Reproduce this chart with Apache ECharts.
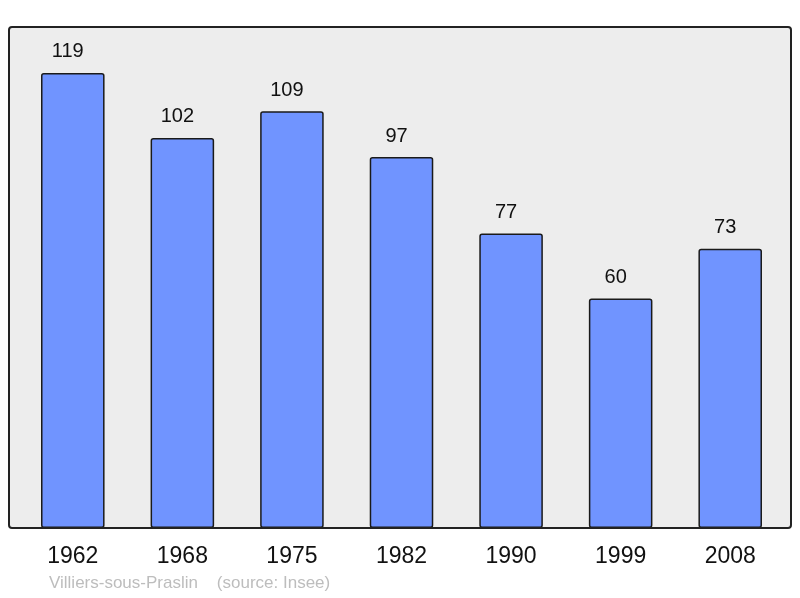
<!DOCTYPE html>
<html>
<head>
<meta charset="utf-8">
<script src="https://cdn.jsdelivr.net/npm/echarts@6/dist/echarts.min.js"></script>
<style>
  html, body { margin: 0; padding: 0; background: #fff; }
  #chart { width: 800px; height: 598px; }
</style>
</head>
<body>
<div id="chart"></div>
<script>
var years = ['1962', '1968', '1975', '1982', '1990', '1999', '2008'];
var population = [119, 102, 109, 97, 77, 60, 73];
var footerText = 'Villiers-sous-Praslin    (source: Insee)';

var chart = echarts.init(document.getElementById('chart'), null, { renderer: 'canvas' });

var option = {
    animation: false,
    textStyle: { fontFamily: 'Liberation Sans, Arial, sans-serif' },
    grid: {
        left: 18,
        right: 15,
        top: 27,
        bottom: 70
    },
    graphic: [
        {
            type: 'rect',
            z: -10,
            shape: { x: 9, y: 27, width: 782, height: 501, r: 3 },
            style: { fill: '#ededed' }
        },
        {
            type: 'rect',
            z: 100,
            silent: true,
            shape: { x: 9, y: 27, width: 782, height: 501, r: 3 },
            style: { fill: 'none', stroke: '#222', lineWidth: 2 }
        },
        {
            type: 'text',
            left: 49,
            top: 575,
            style: {
                text: footerText,
                fill: '#bdbdbd',
                font: '17px Liberation Sans, Arial, sans-serif'
            }
        }
    ],
    xAxis: {
        type: 'category',
        data: years,
        axisLine: { show: false },
        axisTick: { show: false },
        axisLabel: {
            color: '#111',
            fontSize: 23,
            margin: 17
        }
    },
    yAxis: {
        type: 'value',
        min: 0,
        max: 131,
        show: false,
        splitLine: { show: false }
    },
    series: [{
        type: 'bar',
        data: population,
        barWidth: '58%',
        itemStyle: {
            color: '#7094ff',
            borderColor: '#1a1a1a',
            borderWidth: 1.5,
            borderRadius: 2
        },
        label: {
            show: true,
            position: 'top',
            distance: 11,
            offset: [-5, 0],
            color: '#111',
            fontSize: 20
        }
    }]
};

chart.setOption(option);
</script>
</body>
</html>
